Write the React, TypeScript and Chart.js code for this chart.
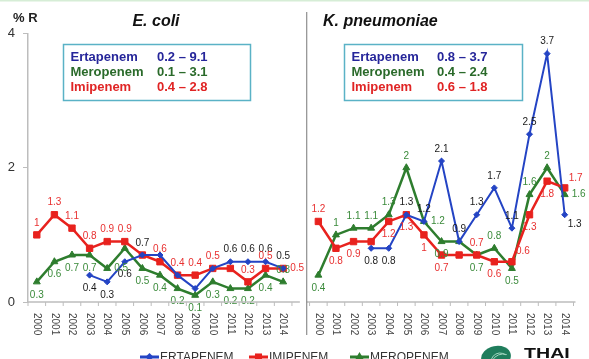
import React, { useEffect, useRef } from "react";
import { Chart, registerables } from "chart.js";

Chart.register(...registerables);

// ---------- data ----------
const years = ["2000","2001","2002","2003","2004","2005","2006","2007","2008","2009","2010","2011","2012","2013","2014"];

const ecoliErtapenem = [null, null, null, 0.4, 0.3, 0.6, 0.7, 0.7, 0.4, 0.2, 0.5, 0.6, 0.6, 0.6, 0.5];
const ecoliImipenem = [1, 1.3, 1.1, 0.8, 0.9, 0.9, 0.7, 0.6, 0.4, 0.4, 0.5, 0.5, 0.3, 0.5, 0.5];
const ecoliMeropenem = [0.3, 0.6, 0.7, 0.7, 0.5, 0.8, 0.5, 0.4, 0.2, 0.1, 0.3, 0.2, 0.2, 0.4, 0.3];

const kpErtapenem = [null, null, null, 0.8, 0.8, 1.3, 1.2, 2.1, 0.9, 1.3, 1.7, 1.1, 2.5, 3.7, 1.3];
const kpImipenem = [1.2, 0.8, 0.9, 0.9, 1.2, 1.3, 1.0, 0.7, 0.7, 0.7, 0.6, 0.6, 1.3, 1.8, 1.7];
const kpMeropenem = [0.4, 1.0, 1.1, 1.1, 1.3, 2.0, 1.2, 0.9, 0.9, 0.7, 0.8, 0.5, 1.6, 2.0, 1.6];

const yMin = 0;
const yMax = 4;
const yStep = 2;

const axisTitle = "% R";
const panelTitles = ["E. coli", "K. pneumoniae"];
const rangeDrugs = ["Ertapenem", "Meropenem", "Imipenem"];
const ecoliRanges = ["0.2 – 9.1", "0.1 – 3.1", "0.4 – 2.8"];
const kpRanges = ["0.8 – 3.7", "0.4 – 2.4", "0.6 – 1.8"];
const legendNames = ["ERTAPENEM", "IMIPENEM", "MEROPENEM"];
const logoText = "THAI";

// ---------- label placement (style) ----------
const ecErtPos = ["", "", "", "b", "b", "b", "a", "", "", "", "", "a", "a", "a", "a"];
const ecImiPos = ["a", "a", "a", "a", "a", "a", "", "a", "a", "a", "a", "", "a", "a", "r"];
const ecMeroPos = ["b", "b", "b", "b", "r", "", "b", "b", "b", "b", "b", "b", "b", "b", "a"];
const kpErtPos = ["", "", "", "b", "b", "a", "a", "a", "a", "a", "a", "a", "a", "a", "br"];
const kpImiPos = ["a", "b", "b", "", "b", "b", "b", "b", "", "a", "b", "ar", "b", "b", "ar"];
const kpMeroPos = ["b", "a", "a", "a", "a", "a", "r", "b", "", "b", "a", "b", "a", "a", "r"];

const FONT = "'Liberation Sans', Arial, sans-serif";
const BLUE = "#2444c4";
const RED = "#e8221e";
const GREEN = "#2e7d2e";
const BLUE_TXT = "#26269a";
const GREEN_TXT = "#2a6a2a";
const RED_TXT = "#e02424";

const N = years.length;
const labels = [...years, "", ...years];
const leftPad = (a: (number | null)[]) => [...a, ...Array(N + 1).fill(null)];
const rightPad = (a: (number | null)[]) => [...Array(N + 1).fill(null), ...a];
const leftPos = (a: string[]) => [...a, ...Array(N + 1).fill("")];
const rightPos = (a: string[]) => [...Array(N + 1).fill(""), ...a];

function ds(data: (number | null)[], color: string, style: string, radius: number, width: number, pos: string[], labelColor: string) {
  return {
    data,
    borderColor: color,
    backgroundColor: color,
    pointBackgroundColor: color,
    pointBorderColor: color,
    pointStyle: style,
    pointRadius: radius,
    pointBorderWidth: 1,
    borderWidth: width,
    tension: 0,
    spanGaps: false,
    _pos: pos,
    _labelColor: labelColor,
  } as any;
}

const decor = {
  id: "decor",
  beforeDraw(chart: any) {
    const ctx = chart.ctx;
    ctx.save();
    ctx.fillStyle = "#ffffff";
    ctx.fillRect(0, 0, chart.width, chart.height);
    ctx.fillStyle = "#d6edd6";
    ctx.fillRect(0, 0, chart.width, 1.5);
    ctx.restore();
  },
  afterDatasetsDraw(chart: any) {
    const ctx = chart.ctx;
    ctx.save();
    ctx.font = `10px ${FONT}`;
    ctx.textAlign = "center";
    ctx.textBaseline = "middle";
    chart.data.datasets.forEach((d: any, di: number) => {
      const meta = chart.getDatasetMeta(di);
      meta.data.forEach((pt: any, i: number) => {
        const v = d.data[i];
        const p = d._pos[i];
        if (v == null || !p) return;
        let dx = 0, dy = 0;
        if (p === "a") dy = -12;
        else if (p === "b") dy = 13;
        else if (p === "r") dx = 14;
        else if (p === "ar") { dx = 11; dy = -10; }
        else if (p === "br") { dx = 10; dy = 10; }
        ctx.fillStyle = d._labelColor;
        ctx.fillText(String(v), pt.x + dx, pt.y + dy);
      });
    });
    ctx.restore();
  },
  afterDraw(chart: any) {
    const ctx = chart.ctx;
    const xs = chart.scales.x;
    const area = chart.chartArea;
    const px = (i: number) => xs.getPixelForValue(i);
    const step = px(1) - px(0);
    const axisY = area.bottom;
    const sepX = px(N) + 6;
    ctx.save();

    // x axis lines
    ctx.strokeStyle = "#bdbdbd";
    ctx.lineWidth = 1.5;
    ctx.beginPath();
    ctx.moveTo(area.left, axisY);
    ctx.lineTo(px(N - 1) + step * 0.95, axisY);
    ctx.moveTo(sepX, axisY);
    ctx.lineTo(area.right + 2, axisY);
    ctx.stroke();
    // ticks
    ctx.lineWidth = 1;
    ctx.beginPath();
    for (let i = 0; i <= N; i++) {
      const x1 = px(i) - step / 2;
      ctx.moveTo(x1, axisY);
      ctx.lineTo(x1, axisY + 4);
      const x2 = px(N + 1 + i) - step / 2;
      ctx.moveTo(x2, axisY);
      ctx.lineTo(x2, axisY + 4);
    }
    ctx.stroke();

    // separator
    ctx.strokeStyle = "#777";
    ctx.lineWidth = 1;
    ctx.beginPath();
    ctx.moveTo(sepX, 12);
    ctx.lineTo(sepX, 335);
    ctx.stroke();

    // year labels rotated clockwise
    ctx.fillStyle = "#444";
    ctx.font = `10px ${FONT}`;
    ctx.textAlign = "left";
    ctx.textBaseline = "middle";
    labels.forEach((lab, i) => {
      if (!lab) return;
      ctx.save();
      ctx.translate(px(i), axisY + 11);
      ctx.rotate(Math.PI / 2);
      ctx.fillText(lab, 0, 0);
      ctx.restore();
    });

    // axis title
    ctx.fillStyle = "#222";
    ctx.font = `bold 13px ${FONT}`;
    ctx.textAlign = "left";
    ctx.fillText(axisTitle, 13, 18);

    // panel titles
    ctx.font = `italic bold 16px ${FONT}`;
    ctx.fillStyle = "#111";
    ctx.textAlign = "center";
    ctx.fillText(panelTitles[0], 156, 22);
    ctx.textAlign = "left";
    ctx.fillText(panelTitles[1], 323, 22);

    // range boxes
    const drawBox = (x: number, w: number, valX: number, ranges: string[]) => {
      ctx.strokeStyle = "#5ab2c6";
      ctx.lineWidth = 1.5;
      ctx.strokeRect(x, 44.5, w, 56);
      ctx.font = `bold 13px ${FONT}`;
      ctx.textAlign = "left";
      ctx.textBaseline = "middle";
      const cols = [BLUE_TXT, GREEN_TXT, RED_TXT];
      const ys = [57, 72, 87];
      rangeDrugs.forEach((name, i) => {
        ctx.fillStyle = cols[i];
        ctx.fillText(name, x + 7, ys[i]);
        ctx.fillText(ranges[i], valX, ys[i]);
      });
    };
    drawBox(63.5, 187, 157, ecoliRanges);
    drawBox(344.5, 178, 437, kpRanges);

    // legend
    const legendCols = [BLUE, RED, GREEN];
    const legendStyles = ["rectRot", "rect", "triangle"];
    const legendRadius = [4, 5, 5];
    const legendX = [140, 249, 350];
    legendNames.forEach((name, i) => {
      const x0 = legendX[i];
      ctx.strokeStyle = legendCols[i];
      ctx.lineWidth = 3;
      ctx.beginPath();
      ctx.moveTo(x0, 357);
      ctx.lineTo(x0 + 19, 357);
      ctx.stroke();
      ctx.fillStyle = legendCols[i];
      (Chart as any).helpers?.drawPoint;
      ctx.restore();
      ctx.save();
      drawMarker(ctx, legendStyles[i], x0 + 9.5, 357, legendRadius[i], legendCols[i]);
      ctx.fillStyle = "#333";
      ctx.font = `12px ${FONT}`;
      ctx.textAlign = "left";
      ctx.textBaseline = "alphabetic";
      ctx.fillText(name, x0 + 20, 361);
    });

    // logo
    ctx.fillStyle = "#1f7d5c";
    ctx.beginPath();
    ctx.ellipse(496, 357, 15, 11, -0.2, 0, Math.PI * 2);
    ctx.fill();
    ctx.strokeStyle = "#9fd6bf";
    ctx.lineWidth = 1;
    ctx.beginPath();
    ctx.arc(500, 362, 9, Math.PI * 1.1, Math.PI * 1.7);
    ctx.stroke();
    ctx.beginPath();
    ctx.arc(503, 366, 12, Math.PI * 1.15, Math.PI * 1.6);
    ctx.stroke();
    ctx.fillStyle = "#111";
    ctx.save();
    ctx.translate(524, 357.5);
    ctx.scale(1.4, 1);
    ctx.font = `bold 14px ${FONT}`;
    ctx.textAlign = "left";
    ctx.textBaseline = "alphabetic";
    ctx.fillText(logoText, 0, 0);
    ctx.restore();

    ctx.restore();
  },
};

function drawMarker(ctx: CanvasRenderingContext2D, style: string, x: number, y: number, r: number, color: string) {
  ctx.fillStyle = color;
  ctx.beginPath();
  if (style === "rect") {
    const s = r * Math.SQRT1_2;
    ctx.rect(x - s, y - s, 2 * s, 2 * s);
  } else if (style === "rectRot") {
    ctx.moveTo(x, y - r);
    ctx.lineTo(x + r, y);
    ctx.lineTo(x, y + r);
    ctx.lineTo(x - r, y);
    ctx.closePath();
  } else {
    ctx.moveTo(x, y - r);
    ctx.lineTo(x + r * 0.87, y + r * 0.5);
    ctx.lineTo(x - r * 0.87, y + r * 0.5);
    ctx.closePath();
  }
  ctx.fill();
}

export default function App() {
  const ref = useRef<HTMLCanvasElement>(null);
  useEffect(() => {
    const canvas = ref.current!;
    const chart = new Chart(canvas, {
      type: "line",
      data: {
        labels,
        datasets: [
          ds(leftPad(ecoliErtapenem), BLUE, "rectRot", 3, 2, leftPos(ecErtPos), "#1a1a1a"),
          ds(leftPad(ecoliImipenem), RED, "rect", 4.5, 2.5, leftPos(ecImiPos), "#e83030"),
          ds(leftPad(ecoliMeropenem), GREEN, "triangle", 4, 2.5, leftPos(ecMeroPos), "#3a8a3a"),
          ds(rightPad(kpErtapenem), BLUE, "rectRot", 3, 2, rightPos(kpErtPos), "#1a1a1a"),
          ds(rightPad(kpImipenem), RED, "rect", 4.5, 2.5, rightPos(kpImiPos), "#e83030"),
          ds(rightPad(kpMeropenem), GREEN, "triangle", 4, 2.5, rightPos(kpMeroPos), "#3a8a3a"),
        ],
      },
      options: {
        responsive: false,
        animation: false,
        devicePixelRatio: 1,
        layout: { padding: { top: 33.5, bottom: 57, left: 0, right: 15.5 } },
        plugins: { legend: { display: false }, tooltip: { enabled: false } },
        scales: {
          x: { type: "category", display: false, offset: true },
          y: {
            min: yMin,
            max: yMax,
            ticks: { stepSize: yStep, color: "#333", font: { family: FONT, size: 13 }, padding: 8 },
            grid: { drawOnChartArea: false, drawTicks: true, tickLength: 5, color: "#bdbdbd" },
            border: { display: true, color: "#bdbdbd", width: 1.5 },
            afterFit: (s: any) => { s.width = 28; },
          },
        },
      } as any,
      plugins: [decor],
    });
    return () => chart.destroy();
  }, []);
  return (
    <div style={{ position: "fixed", left: 0, top: 0, width: 589, height: 359, background: "#fff" }}>
      <canvas ref={ref} width={589} height={359} style={{ display: "block", width: 589, height: 359 }} />
    </div>
  );
}
